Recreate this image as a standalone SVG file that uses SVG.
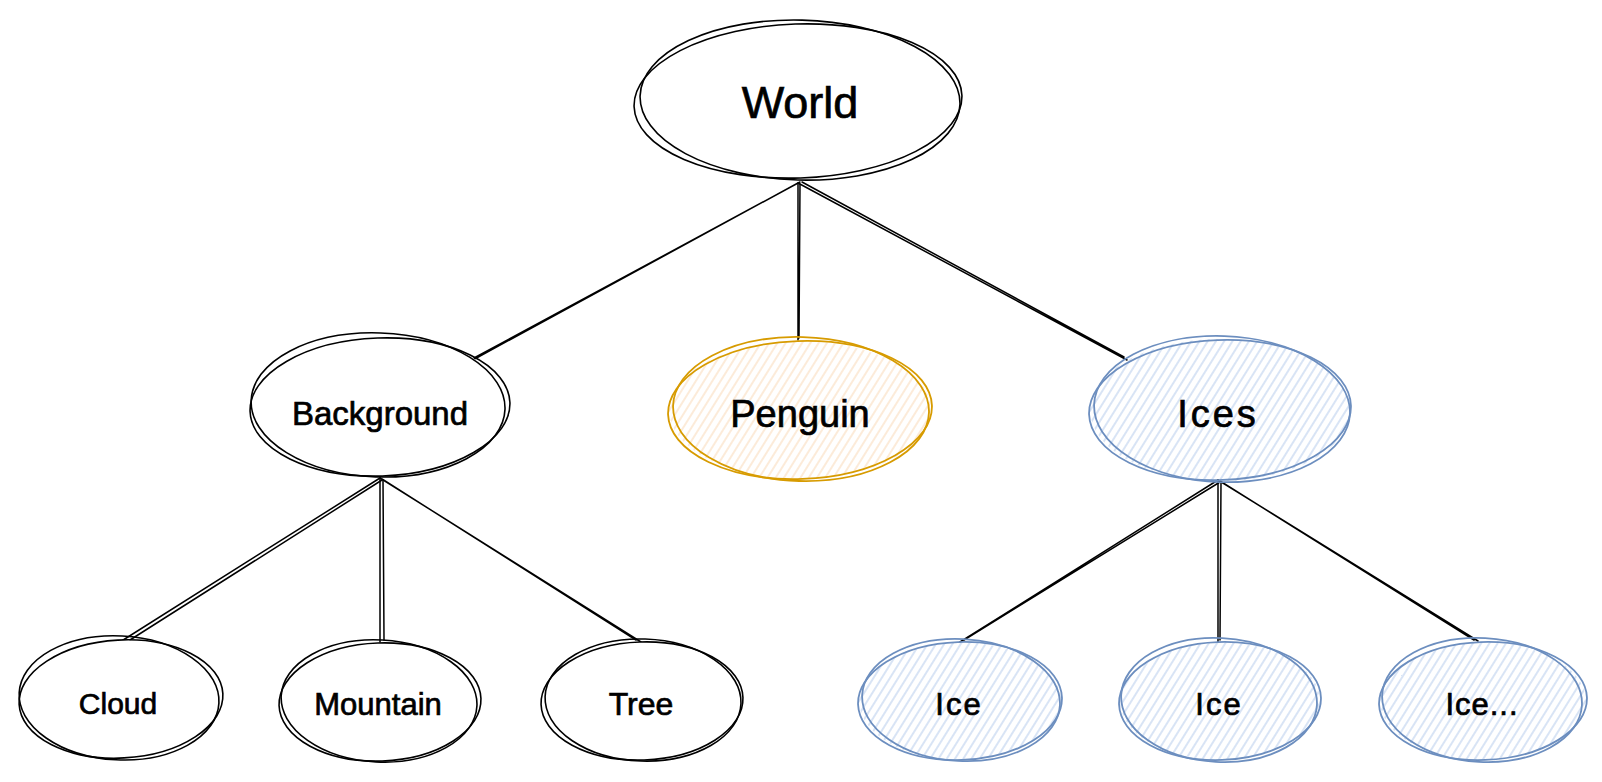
<svg xmlns="http://www.w3.org/2000/svg" width="1602" height="782" viewBox="0 0 1602 782">
<defs>
<pattern id="hatchY" width="7" height="7" patternUnits="userSpaceOnUse" patternTransform="rotate(32)">
<line x1="1" y1="0" x2="1" y2="7" stroke="#fbe2c9" stroke-width="1.4"/>
</pattern>
<pattern id="hatchB" width="7" height="7" patternUnits="userSpaceOnUse" patternTransform="rotate(32)">
<line x1="1" y1="0" x2="1" y2="7" stroke="#c8d9f1" stroke-width="1.4"/>
</pattern>
<style>
.k{fill:none;stroke:#000;stroke-width:1.6}
.y{fill:none;stroke:#d79b00;stroke-width:1.8}
.b{fill:none;stroke:#6c8ebf;stroke-width:1.8}
.t{font-family:"Liberation Sans","Noto Sans",sans-serif;fill:#000;stroke:#000;stroke-width:0.7;text-anchor:middle;dominant-baseline:central}
.ln{fill:none;stroke:#000;stroke-width:1.5;stroke-linecap:round}
</style>
</defs>
<rect width="1602" height="782" fill="#fff"/>

<g id="connectors">
<path class="ln" d="M798,183 L471,361 M800,182 L474,358"/>
<path class="ln" d="M798,183 L798,340 M800,184 L799,338"/>
<path class="ln" d="M798,183 L1127,360 M802,182 L1124,357"/>
<path class="ln" d="M380,478 L120,642 M382,480 L130,640"/>
<path class="ln" d="M380,478 L380,642 M383,480 L384,640"/>
<path class="ln" d="M380,478 L641,642 M382,479 L636,640"/>
<path class="ln" d="M1218,480 L960,642 M1220,482 L964,640"/>
<path class="ln" d="M1218,480 L1218,642 M1221,482 L1220,640"/>
<path class="ln" d="M1218,480 L1478,641 M1220,481 L1474,640"/>
</g>

<g id="world">
<ellipse cx="798" cy="101" rx="164" ry="78" fill="#fff"/>
<ellipse class="k" cx="798" cy="101" rx="164" ry="77" transform="rotate(-2 798 101)"/>
<ellipse class="k" cx="800" cy="100" rx="160" ry="80" transform="rotate(1.5 798 101)"/>
<text class="t" x="800" y="102" font-size="45">World</text>
</g>

<g id="background">
<ellipse cx="380" cy="407" rx="130" ry="70" fill="#fff"/>
<ellipse class="k" cx="380" cy="407" rx="130" ry="69" transform="rotate(-2 380 407)"/>
<ellipse class="k" cx="378" cy="405" rx="127" ry="72" transform="rotate(2 380 407)"/>
<text class="t" x="380" y="413" font-size="33">Background</text>
</g>

<g id="penguin">
<ellipse cx="800" cy="410" rx="131" ry="69" fill="url(#hatchY)"/>
<ellipse class="y" cx="800" cy="410" rx="132" ry="69" transform="rotate(-2 800 410)"/>
<ellipse class="y" cx="801" cy="409" rx="128" ry="72" transform="rotate(1.5 800 410)"/>
<text class="t" x="800" y="414" font-size="38">Penguin</text>
</g>

<g id="ices">
<ellipse cx="1220" cy="410" rx="130" ry="71" fill="url(#hatchB)"/>
<ellipse class="b" cx="1220" cy="410" rx="131" ry="70" transform="rotate(-2 1220 410)"/>
<ellipse class="b" cx="1222" cy="409" rx="128" ry="73" transform="rotate(2 1220 410)"/>
<text class="t" x="1218" y="414" font-size="38" letter-spacing="3">Ices</text>
</g>

<g id="cloud">
<ellipse cx="121" cy="699" rx="102" ry="59" fill="#fff"/>
<ellipse class="k" cx="121" cy="699" rx="102" ry="59" transform="rotate(-3 121 699)"/>
<ellipse class="k" cx="119" cy="698" rx="100" ry="62" transform="rotate(3 121 699)"/>
<text class="t" x="118" y="703" font-size="30">Cloud</text>
</g>

<g id="mountain">
<ellipse cx="380" cy="702" rx="101" ry="59" fill="#fff"/>
<ellipse class="k" cx="380" cy="702" rx="101" ry="59" transform="rotate(-2 380 702)"/>
<ellipse class="k" cx="379" cy="701" rx="98" ry="61" transform="rotate(3 380 702)"/>
<text class="t" x="378" y="704" font-size="31">Mountain</text>
</g>

<g id="tree">
<ellipse cx="642" cy="701" rx="100" ry="59" fill="#fff"/>
<ellipse class="k" cx="642" cy="701" rx="101" ry="59" transform="rotate(-2 642 701)"/>
<ellipse class="k" cx="643" cy="700" rx="98" ry="61" transform="rotate(2 642 701)"/>
<text class="t" x="641" y="704" font-size="32">Tree</text>
</g>

<g id="ice1">
<ellipse cx="960" cy="701" rx="101" ry="59" fill="url(#hatchB)"/>
<ellipse class="b" cx="960" cy="701" rx="102" ry="59" transform="rotate(-2 960 701)"/>
<ellipse class="b" cx="961" cy="700" rx="99" ry="61" transform="rotate(3 960 701)"/>
<text class="t" x="959" y="704" font-size="31" letter-spacing="2">Ice</text>
</g>

<g id="ice2">
<ellipse cx="1220" cy="701" rx="100" ry="59" fill="url(#hatchB)"/>
<ellipse class="b" cx="1220" cy="701" rx="101" ry="59" transform="rotate(-2 1220 701)"/>
<ellipse class="b" cx="1219" cy="700" rx="98" ry="62" transform="rotate(3 1220 701)"/>
<text class="t" x="1219" y="704" font-size="31" letter-spacing="2">Ice</text>
</g>

<g id="ice3">
<ellipse cx="1483" cy="701" rx="103" ry="59" fill="url(#hatchB)"/>
<ellipse class="b" cx="1483" cy="701" rx="104" ry="59" transform="rotate(-2 1483 701)"/>
<ellipse class="b" cx="1482" cy="700" rx="100" ry="62" transform="rotate(3 1483 701)"/>
<text class="t" x="1482" y="704" font-size="31" letter-spacing="1">Ice...</text>
</g>
</svg>
